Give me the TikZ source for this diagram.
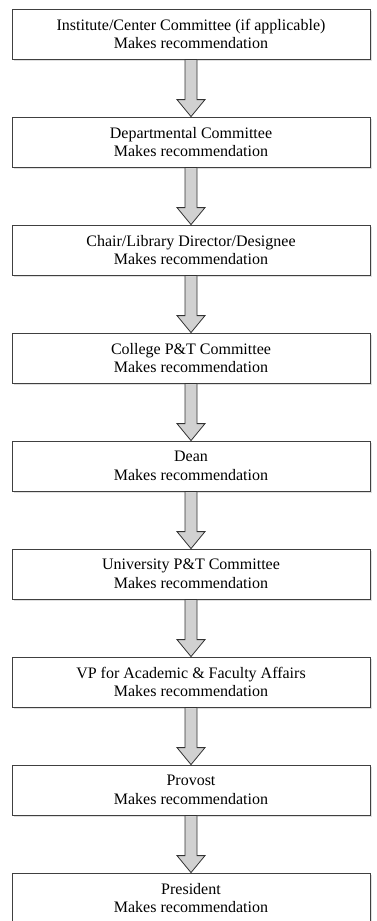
\documentclass[tikz,border=0pt]{standalone}
\usepackage{fontspec}
\setmainfont{Liberation Serif}
\usetikzlibrary{positioning, calc, shadows}

\tikzset{
    stage/.style={draw=black!75,
        line width=0.8pt,
        fill=white,
        minimum width=358pt,
        minimum height=50pt,
        align=center,
        font=\fontsize{16}{18.5}\selectfont,
        drop shadow={shadow xshift=1.5pt, shadow yshift=-1.5pt, opacity=0.25}
    },
    bigarrow/.style={draw=black!80,
        line width=0.8pt,
        fill=black!18,
        to path={($(\tikztostart.south)+(-6pt,0)$) -- ($(\tikztotarget.north)+(-6pt,17pt)$)
            -- ($(\tikztotarget.north)+(-14pt,17pt)$) -- (\tikztotarget.north)
            -- ($(\tikztotarget.north)+(14pt,17pt)$) -- ($(\tikztotarget.north)+(6pt,17pt)$)
            -- ($(\tikztostart.south)+(6pt,0)$) -- cycle}
    }
}

\begin{document}
\begin{tikzpicture}
    \useasboundingbox (0,0) rectangle (377pt,-921pt);

    \node [stage] (institute) at (191pt,-34pt) {
        Institute/Center Committee (if applicable)\\
        Makes recommendation
    };

    \node [stage,
        below=57.2pt of institute
    ] (department) {
        Departmental Committee\\
        Makes recommendation
    };

    \node [stage,
        below=57.2pt of department
    ] (chair) {
        Chair/Library Director/Designee\\
        Makes recommendation
    };

    \node [stage,
        below=57.2pt of chair
    ] (college) {
        College P\&T Committee\\
        Makes recommendation
    };

    \node [stage,
        below=57.2pt of college
    ] (dean) {
        Dean\\
        Makes recommendation
    };

    \node [stage,
        below=57.2pt of dean
    ] (university) {
        University P\&T Committee\\
        Makes recommendation
    };

    \node [stage,
        below=57.2pt of university
    ] (vpaffairs) {
        VP for Academic \& Faculty Affairs\\
        Makes recommendation
    };

    \node [stage,
        below=57.2pt of vpaffairs
    ] (provost) {
        Provost\\
        Makes recommendation
    };

    \node [stage,
        below=57.2pt of provost
    ] (president) {
        President\\
        Makes recommendation
    };

    % block arrows %
    \draw[bigarrow] (institute) to (department);
    \draw[bigarrow] (department) to (chair);
    \draw[bigarrow] (chair) to (college);
    \draw[bigarrow] (college) to (dean);
    \draw[bigarrow] (dean) to (university);
    \draw[bigarrow] (university) to (vpaffairs);
    \draw[bigarrow] (vpaffairs) to (provost);
    \draw[bigarrow] (provost) to (president);
\end{tikzpicture}
\end{document}
